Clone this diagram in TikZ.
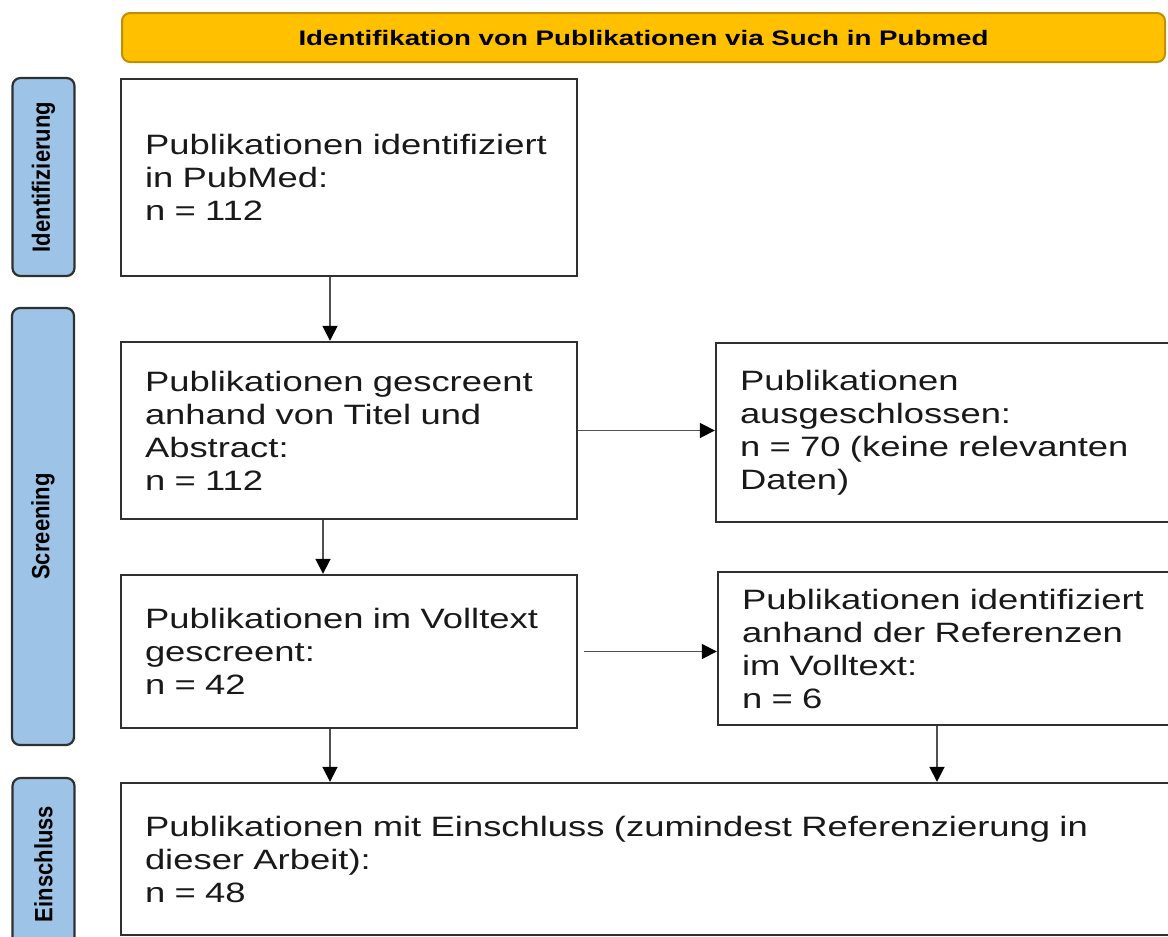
\documentclass[tikz,border=0pt]{standalone}
\usepackage{fontspec}
\setmainfont{Liberation Sans}
\newfontfamily\boxfont{Liberation Sans}[FakeStretch=1.3]
\newfontfamily\headfont{Liberation Sans Bold}[FakeStretch=1.32]
\newfontfamily\sidefont{Liberation Sans Bold}[FakeStretch=0.88]
\usetikzlibrary{arrows.meta}
\definecolor{headfill}{HTML}{FFC000}
\definecolor{headline}{HTML}{BF9000}
\definecolor{sidefill}{HTML}{9DC3E6}
\definecolor{boxline}{HTML}{303030}
\definecolor{arrline}{HTML}{505050}
\begin{document}
\begin{tikzpicture}[x=1pt, y=-1pt,
  box/.style={draw=boxline, line width=2.4pt, inner xsep=24pt, align=left,
              text=black!90, font=\boxfont\fontsize{28}{33}\selectfont},
  phase/.style={draw=boxline, fill=sidefill, line width=2.2pt, rounded corners=8pt,
                minimum width=62pt, font=\sidefont\fontsize{25}{27}\selectfont},
  arr/.style={draw=arrline, line width=1.8pt, -{Triangle[length=15pt, width=15pt, black]}}]
  \useasboundingbox (0,0) rectangle (1168,937);
  % header
  \node[draw=headline, fill=headfill, line width=2pt, rounded corners=8pt,
        minimum width=1043pt, minimum height=49pt,
        font=\headfont\fontsize{21}{24}\selectfont] (head) at (643.5,37.5)
     {Identifikation von Publikationen via Such in Pubmed};
  % phase labels
  \node[phase, minimum height=198pt] (ident) at (43.5,177) {\rotatebox{90}{Identifizierung}};
  \node[phase, minimum height=437pt] (screen) at (43,526.5) {\rotatebox{90}{Screening}};
  \node[phase, minimum height=172pt] (einschl) at (43.5,864) {\rotatebox{90}{Einschluss}};
  % left column
  \node[box, minimum width=456pt, minimum height=197pt, text width=408pt] (found) at (349,177.5)
     {Publikationen identifiziert\\in PubMed:\\n = 112};
  \node[box, minimum width=456pt, minimum height=177pt, text width=408pt] (titab) at (349,430.5)
     {Publikationen gescreent\\anhand von Titel und\\Abstract:\\n = 112};
  \node[box, minimum width=456pt, minimum height=153pt, text width=408pt] (full) at (349,651.5)
     {Publikationen im Volltext\\gescreent:\\n = 42};
  % right column
  \node[box, minimum width=469pt, minimum height=179pt, text width=421pt] (excl) at (950.5,432.5)
     {Publikationen\\ausgeschlossen:\\n = 70 (keine relevanten\\Daten)};
  \node[box, minimum width=467pt, minimum height=153pt, text width=419pt] (refs) at (951.5,648.5)
     {Publikationen identifiziert\\anhand der Referenzen\\im Volltext:\\n = 6};
  % inclusion
  \node[box, minimum width=1064pt, minimum height=152pt, text width=1016pt] (incl) at (653,859)
     {Publikationen mit Einschluss (zumindest Referenzierung in\\dieser Arbeit):\\n = 48};
  % arrows
  \draw[arr] ([xshift=-19pt]found.south) -- ([xshift=-19pt]titab.north);
  \draw[arr] ([xshift=-26pt]titab.south) -- ([xshift=-26pt]full.north);
  \draw[arr] (titab.east) -- (titab.east -| excl.west);
  \draw[arr] ([xshift=6pt]full.east) -- (full.east -| refs.west);
  \draw[arr] ([xshift=-19pt]full.south) -- ([xshift=-19pt]full.south |- incl.north);
  \draw[arr] ([xshift=-14.5pt]refs.south) -- ([xshift=-14.5pt]refs.south |- incl.north);
\end{tikzpicture}
\end{document}
